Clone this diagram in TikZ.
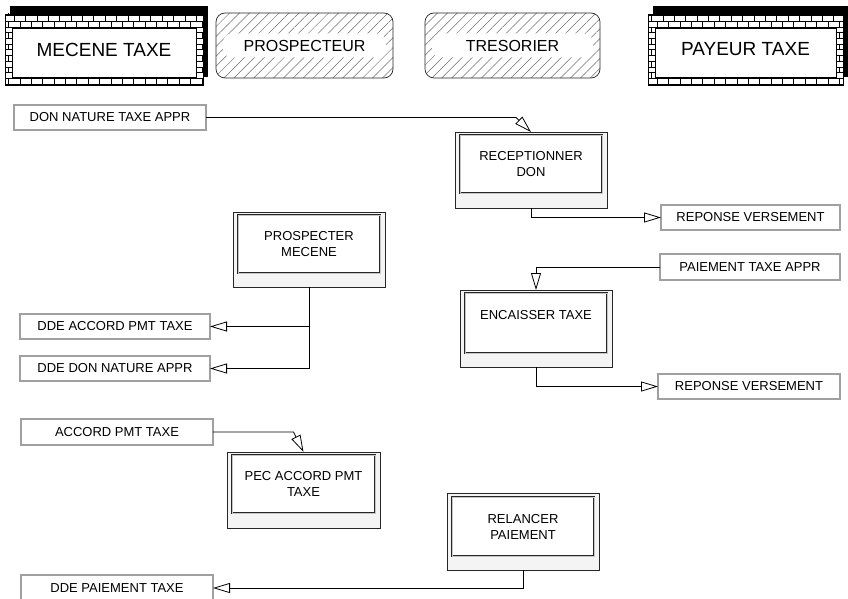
\documentclass[tikz,border=0pt]{standalone}
\usepackage{fontspec}
\setmainfont{Liberation Sans}
\usetikzlibrary{arrows.meta,calc,patterns,patterns.meta,shadows}
\definecolor{TaxeLine}{HTML}{262626}
\definecolor{TaxeFrame}{HTML}{A0A0A0}
\definecolor{TaxeHatch}{HTML}{6E6E6E}
\definecolor{TaxePanel}{HTML}{F4F4F4}
\tikzset{
  taxe actor brick/.style={
    draw=black,
    line width=0.7pt,
    general shadow={fill=black,shadow xshift=5pt,shadow yshift=8pt},
    preaction={fill=white},
    pattern=bricks,
    path picture={
      \draw[fill=white,line width=0.6pt]
        ([xshift=7pt,yshift=-14pt]path picture bounding box.north west) rectangle
        ([xshift=-7pt,yshift=8pt]path picture bounding box.south east);
    },
    inner sep=0pt,
    outer sep=0pt,
    font=\fontsize{19}{22}\selectfont
  },
  taxe actor hatch/.style={
    draw=TaxeLine,
    line width=0.7pt,
    rounded corners=9pt,
    pattern={Lines[angle=45,distance=7pt,line width=0.5pt]},
    pattern color=TaxeHatch,
    path picture={
      \fill[white]
        ([xshift=7pt,yshift=12pt]path picture bounding box.west) rectangle
        ([xshift=-7pt,yshift=-12pt]path picture bounding box.east);
    },
    inner sep=0pt,
    outer sep=0pt,
    font=\fontsize{16}{19}\selectfont
  },
  taxe msg/.style={
    draw=TaxeLine,
    double=TaxeFrame,
    double distance=1.6pt,
    line width=0.6pt,
    fill=white,
    anchor=north west,
    minimum height=25pt,
    inner sep=0pt,
    outer sep=0pt,
    font=\fontsize{13}{16}\selectfont
  },
  taxe proc/.style={
    draw=TaxeLine,
    line width=0.7pt,
    fill=TaxePanel,
    anchor=north west,
    inner sep=0pt,
    outer sep=0pt
  },
  taxe proc inner/.style={
    draw=TaxeLine,
    double=TaxeFrame!60,
    double distance=0.8pt,
    line width=0.5pt,
    fill=white,
    anchor=north west,
    align=center,
    inner sep=0pt,
    outer sep=0pt,
    font=\fontsize{13}{16}\selectfont
  },
  taxe flow/.style={-{Triangle[open,length=17pt,width=10pt]},draw=black,line width=0.8pt}
}

\begin{document}
\begin{tikzpicture}[x=1pt,y=-1pt]
  \useasboundingbox (0,0) rectangle (848,599);

  % actors
  \node[taxe actor brick,minimum width=198pt,minimum height=71pt] (mecene) at (104,49.5) {MECENE TAXE};
  \node[taxe actor hatch,minimum width=177pt,minimum height=65pt] (prospecteur) at (304.5,45.5) {PROSPECTEUR};
  \node[taxe actor hatch,minimum width=175pt,minimum height=65pt] (tresorier) at (512.5,45.5) {TRESORIER};
  \node[taxe actor brick,minimum width=195pt,minimum height=71pt] (payeur) at (745.5,49.5) {PAYEUR TAXE};

  % processes
  \node[taxe proc,minimum width=152pt,minimum height=76pt] (recep) at (455,132) {};
  \node[taxe proc inner,minimum width=142pt,minimum height=58pt] (receptxt) at (460,135) {RECEPTIONNER\\DON};
  \node[taxe proc,minimum width=152pt,minimum height=75pt] (prosp) at (233,212) {};
  \node[taxe proc inner,minimum width=142pt,minimum height=58pt] (prosptxt) at (238,215) {PROSPECTER\\MECENE};
  \node[taxe proc,minimum width=152pt,minimum height=77pt] (encais) at (460,290) {};
  \node[taxe proc inner,minimum width=142pt,minimum height=60pt] (encaistxt) at (465,293) {ENCAISSER TAXE\\~};
  \node[taxe proc,minimum width=153pt,minimum height=76pt] (pec) at (227,452) {};
  \node[taxe proc inner,minimum width=143pt,minimum height=58pt] (pectxt) at (232,455) {PEC ACCORD PMT\\TAXE};
  \node[taxe proc,minimum width=152pt,minimum height=77pt] (relance) at (447,493) {};
  \node[taxe proc inner,minimum width=142pt,minimum height=59pt] (relancetxt) at (452,497) {RELANCER\\PAIEMENT};

  % messages
  \node[taxe msg,minimum width=192pt] (donnat) at (14,105) {DON NATURE TAXE APPR};
  \node[taxe msg,minimum width=179pt] (rep1) at (661,205) {REPONSE VERSEMENT};
  \node[taxe msg,minimum width=180pt,minimum height=26pt] (paiement) at (660,254) {PAIEMENT TAXE APPR};
  \node[taxe msg,minimum width=182pt] (rep2) at (658,374) {REPONSE VERSEMENT};
  \node[taxe msg,minimum width=190pt] (ddeaccord) at (20,314) {DDE ACCORD PMT TAXE};
  \node[taxe msg,minimum width=190pt] (ddedon) at (20,356) {DDE DON NATURE APPR};
  \node[taxe msg,minimum width=192pt,minimum height=26pt] (accord) at (21,419) {ACCORD PMT TAXE};
  \node[taxe msg,minimum width=192pt,minimum height=26pt] (ddepaie) at (21,575) {DDE PAIEMENT TAXE};

  % flows
  \draw[taxe flow] (donnat.east) -- ($(recep.north |- donnat.east)+(-15,0)$) -- (recep.north);
  \draw[taxe flow] (recep.south) |- (rep1.west);
  \draw[taxe flow] (paiement.west) -| (encais.north);
  \draw[taxe flow] (encais.south) |- (rep2.west);
  \draw[taxe flow] (prosp.south) |- (ddeaccord.east);
  \draw[taxe flow] (prosp.south) |- (ddedon.east);
  \draw[taxe flow] (accord.east) -- ($(pec.north |- accord.east)+(-10,0)$) -- (pec.north);
  \draw[taxe flow] (relance.south) |- (ddepaie.east);
\end{tikzpicture}
\end{document}
